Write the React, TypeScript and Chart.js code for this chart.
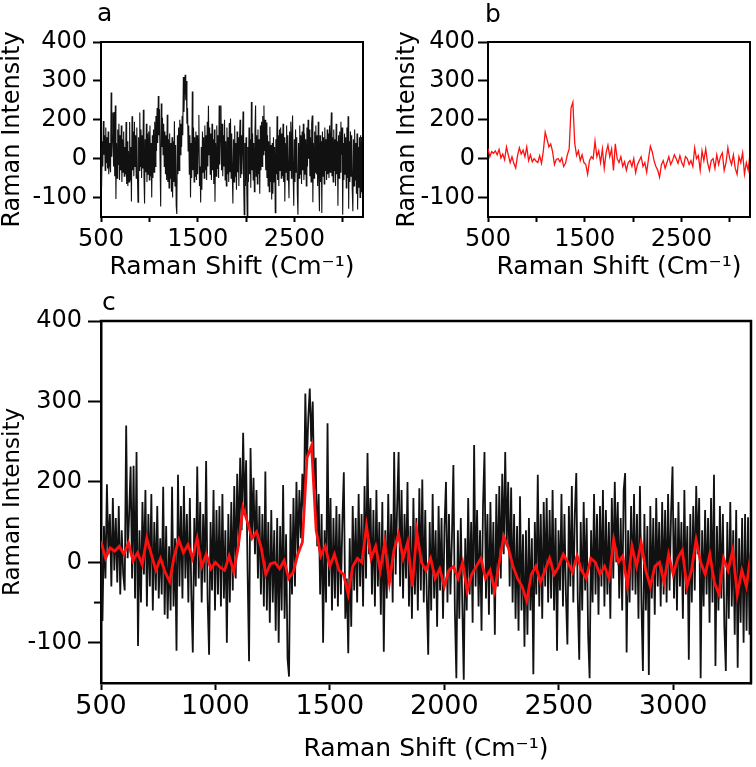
import React, { useEffect, useRef } from 'react';
import { Chart, registerables } from 'chart.js';

Chart.register(...registerables);

// ---- data (Raman shift in cm-1, intensity in axis units where the "0" label is 0) ----
const shiftStart = 500;
const shiftEndMain = 3340; // panel c
const shiftEndTop = 3210; // panels a and b
const shiftTicks = [500, 1000, 1500, 2000, 2500, 3000];
const topShiftLabels = [500, 1500, 2500];
const intensityTicks = [-100, 0, 100, 200, 300];
const intensityTickLabels = ['-100', '0', '200', '300', '400'];

// black spectrum (raw), 440 samples evenly spaced over the shift range
const blackIntensity = [
  30, -73, 45, -20, 97, 10, 60, -30, 80, -10, 55, -25, 70, -40, 40, -15, -35, 170, 5, 60,
  119, -20, 120, -45, 137, -104, 40, -50, 75, -15, 90, -55, 60, -30, 85, -60, 50, -35, 70, -45,
  30, -40, 94, -65, 45, -70, 20, -60, 94, -55, 30, -110, 109, -30, 70, -45, 95, -20, 60, -50,
  80, -40, -112, 55, -30, 119, -20, 75, -50, 60, -25, 126, -45, -115, 50, -35, 90, -60, 65, -40,
  70, -55, 85, -45, 40, -100, 60, -50, 75, -35, 95, -20, 110, 20, 130, 40, 161, 60, 127, -10,
  -123, 142, 30, 105, 10, 90, -20, 70, -40, 60, -55, 113, -60, 50, -75, 65, -50, 40, -85, 55,
  -100, 45, -60, 96, -70, 35, -120, -142, 60, -40, 80, -30, 100, 10, 90, 30, 110, 60, 210, 120,
  180, 216, 150, 200, 90, 130, 20, 85, -40, 60, -100, 40, -50, 173, -30, 80, -60, 55, -45, 70,
  -55, 60, -40, 50, 112, -70, -20, -113, 30, -80, 70, -35, 55, -50, 85, -30, 60, -55, 95, -20,
  136, 10, 80, -40, 65, -55, 90, -30, 50, -65, 75, -111, 40, -45, 85, -25, 60, -50, 137, -15,
  70, 137, -30, 90, -45, 60, -20, 100, -55, 45, -70, 80, -40, 55, -60, 92, -35, 103, -50, 65,
  -40, -115, 50, -60, 85, -45, 40, -80, 70, -35, 55, -70, 45, 100, -50, 60, -40, 30, 121, -60,
  -144, 40, -70, 55, -50, -146, 30, -60, 80, -40, 50, -75, 146, -30, 65, -55, 40, -85, 70, 137,
  -45, 60, -65, 75, -40, 50, -90, 85, -30, 95, -20, 110, 10, 137, 20, 100, -30, 93, -50, 60,
  -70, 45, -85, 82, -60, 35, -105, 40, -90, 55, -60, 30, -139, 50, -40, 109, -55, 60, -70, 75,
  -30, 80, -50, 65, -45, 90, -60, 55, -110, 40, -35, 85, -55, 60, -40, -102, 70, -30, 95, -50,
  60, 111, -45, -121, 50, -60, 75, -35, 55, -90, -144, 40, -50, 85, -40, 60, -65, 70, -30, 90,
  -55, 65, -40, 50, -70, 80, -20, 100, 0, 75, -45, 55, -60, 90, 111, -112, 40, -50, 70, -35,
  85, -40, 60, -70, 95, -50, -135, 60, -60, 45, -140, 70, -45, 55, -65, 80, -30, 50, -55, 75,
  -40, 65, -50, 85, -35, 60, 119, -45, 55, -60, 75, -30, 50, -70, 90, -40, 45, -121, 60, -50,
  70, -35, 95, 10, 80, -144, 40, -55, 65, -40, 55, -75, 80, -50, 109, -129, 45, -60, 70, -45,
  60, -80, -135, 50, -70, 75, -55, 40, -90, 65, -131, 30, -75, 55, -100, 60, -85, 56, -90, 20,
];

// red spectrum (smoothed), 143 samples evenly spaced over the shift range
const redIntensity = [
  26, 5, 18, 14, 20, 10, 24, 2, 12, -3,
  30, 10, -10, 5, -12, -24, 8, 28, 12, 22,
  5, 30, -5, 10, -8, 0, -6, -10, 8, -12,
  20, 68, 50, 30, 38, 18, -15, -2, 0, -8,
  2, -20, -12, 10, 25, 130, 145, 40, 8, 20,
  -5, 10, -10, -15, -40, -5, 5, 0, 45, 5,
  20, -10, 25, -25, 15, 35, 5, 25, -30, 38,
  0, -10, 5, -20, -8, -30, -10, -5, -20, 0,
  -36, -15, -5, 5, -20, -10, -35, 0, 32, 18,
  -5, -20, -30, -48, -15, -5, -25, -10, 5, -15,
  -5, 10, 0, -12, 8, -10, -20, 5, 0, -15,
  -5, -20, 28, 0, 8, -30, 20, -5, 25, -10,
  -30, -5, 0, -25, 10, -15, 5, 15, -30, -10,
  28, 0, -15, 10, -25, -40, 5, -10, 15, -40,
  -10, -30, 12,
];

const BLACK = '#111111';
const RED = '#ff1010';
const FONT = "'DejaVu Sans', 'Liberation Sans', Arial, sans-serif";

function toPoints(values: number[], end: number) {
  const step = (end - shiftStart) / (values.length - 1);
  return values.map((y, i) => ({ x: shiftStart + i * step, y }));
}

const boxPlugin = {
  id: 'box',
  afterDraw(chart: any, _args: any, opts: any) {
    const { ctx, chartArea } = chart;
    const { left, right, top, bottom } = chartArea;
    ctx.save();
    ctx.strokeStyle = '#000';
    ctx.lineWidth = opts.width;
    ctx.beginPath();
    ctx.moveTo(left - opts.width / 2, top);
    ctx.lineTo(right, top);
    ctx.lineTo(right, bottom + opts.width / 2);
    ctx.stroke();
    if (opts.minorTicks) {
      const ys = chart.scales.y;
      opts.minorTicks.forEach((v: number) => {
        const py = ys.getPixelForValue(v);
        ctx.lineWidth = 2;
        ctx.beginPath();
        ctx.moveTo(left - opts.minorLen, py);
        ctx.lineTo(left, py);
        ctx.stroke();
      });
    }
    ctx.fillStyle = '#000';
    ctx.font = `${opts.letterSize}px ${FONT}`;
    ctx.textAlign = 'left';
    ctx.textBaseline = 'alphabetic';
    ctx.fillText(opts.letter, opts.lx, opts.ly);
    ctx.restore();
  },
};

type Series = { values: number[]; color: string; width: number };
type PanelSpec = {
  series: Series[];
  xMax: number;
  xLabels: number[];
  padTop: number;
  padRight: number;
  yAxisW: number;
  xAxisH: number;
  yTickLen: number;
  yTickPad: number;
  yTickSize: number;
  xTickLen: number;
  xTickPad: number;
  xTickSize: number;
  xTitleSize: number;
  xTitlePadB: number;
  yTitleSize: number;
  yTitlePad: number;
  borderW: number;
  letter: string;
  lx: number;
  ly: number;
  letterSize: number;
  minorTicks?: number[];
};

function buildConfig(p: PanelSpec): any {
  return {
    type: 'line',
    data: {
      datasets: p.series.map((s) => ({
        data: toPoints(s.values, p.xMax),
        borderColor: s.color,
        borderWidth: s.width,
        pointRadius: 0,
        tension: 0,
        fill: false,
      })),
    },
    options: {
      animation: false,
      responsive: false,
      devicePixelRatio: 1,
      events: [],
      layout: { padding: { top: p.padTop, right: p.padRight, left: 0, bottom: 0 } },
      plugins: {
        legend: { display: false },
        tooltip: { enabled: false },
        box: {
          width: p.borderW,
          letter: p.letter,
          lx: p.lx,
          ly: p.ly,
          letterSize: p.letterSize,
          minorTicks: p.minorTicks,
          minorLen: 7,
        },
      },
      scales: {
        x: {
          type: 'linear',
          min: shiftStart,
          max: p.xMax,
          afterBuildTicks: (s: any) => {
            s.ticks = shiftTicks.map((v) => ({ value: v }));
          },
          afterFit: (s: any) => {
            s.height = p.xAxisH;
          },
          ticks: {
            autoSkip: false,
            maxRotation: 0,
            minRotation: 0,
            padding: p.xTickPad,
            color: '#000',
            font: { family: FONT, size: p.xTickSize },
            callback: (v: number) => (p.xLabels.includes(v) ? String(v) : ''),
          },
          grid: {
            display: true,
            drawOnChartArea: false,
            drawTicks: true,
            tickLength: p.xTickLen,
            tickWidth: 2,
            tickColor: '#000',
            color: '#000',
          },
          border: { display: true, color: '#000', width: p.borderW },
          title: {
            display: true,
            text: 'Raman Shift (Cm\u207B\u00B9)',
            color: '#000',
            font: { family: FONT, size: p.xTitleSize, lineHeight: 1 },
            padding: { top: 0, bottom: p.xTitlePadB },
          },
        },
        y: {
          type: 'linear',
          min: -150,
          max: 300,
          afterBuildTicks: (s: any) => {
            s.ticks = intensityTicks.map((v) => ({ value: v }));
          },
          afterFit: (s: any) => {
            s.width = p.yAxisW;
          },
          ticks: {
            autoSkip: false,
            padding: p.yTickPad,
            color: '#000',
            font: { family: FONT, size: p.yTickSize },
            callback: (_v: number, i: number) => intensityTickLabels[i],
          },
          grid: {
            display: true,
            drawOnChartArea: false,
            drawTicks: true,
            tickLength: p.yTickLen,
            tickWidth: 2,
            tickColor: '#000',
            color: '#000',
          },
          border: { display: true, color: '#000', width: p.borderW },
          title: {
            display: true,
            text: 'Raman Intensity',
            color: '#000',
            font: { family: FONT, size: p.yTitleSize, lineHeight: 1 },
            padding: { top: p.yTitlePad, bottom: 0 },
          },
        },
      },
    },
    plugins: [boxPlugin],
  };
}

const panelA: PanelSpec = {
  series: [{ values: blackIntensity, color: BLACK, width: 1.1 }],
  xMax: shiftEndTop,
  xLabels: topShiftLabels,
  padTop: 42,
  padRight: 15,
  yAxisW: 101,
  xAxisH: 68,
  yTickLen: 8,
  yTickPad: 6,
  yTickSize: 24,
  xTickLen: 5,
  xTickPad: 3,
  xTickSize: 24,
  xTitleSize: 25,
  xTitlePadB: 5,
  yTitleSize: 24,
  yTitlePad: 1,
  borderW: 2,
  letter: 'a',
  lx: 97,
  ly: 21,
  letterSize: 25,
};

const panelB: PanelSpec = {
  series: [{ values: redIntensity, color: RED, width: 1.3 }],
  xMax: shiftEndTop,
  xLabels: topShiftLabels,
  padTop: 42,
  padRight: 6,
  yAxisW: 110,
  xAxisH: 68,
  yTickLen: 10,
  yTickPad: 3,
  yTickSize: 24,
  xTickLen: 5,
  xTickPad: 3,
  xTickSize: 24,
  xTitleSize: 25,
  xTitlePadB: 5,
  yTitleSize: 24,
  yTitlePad: 18,
  borderW: 2,
  letter: 'b',
  lx: 107,
  ly: 22,
  letterSize: 25,
};

const panelC: PanelSpec = {
  series: [
    { values: redIntensity, color: RED, width: 2.8 },
    { values: blackIntensity, color: BLACK, width: 1.8 },
  ],
  xMax: shiftEndMain,
  xLabels: shiftTicks,
  padTop: 36,
  padRight: 5,
  yAxisW: 101,
  xAxisH: 84,
  yTickLen: 13,
  yTickPad: 6,
  yTickSize: 24,
  xTickLen: 7,
  xTickPad: 1,
  xTickSize: 27,
  xTitleSize: 25,
  xTitlePadB: 5,
  yTitleSize: 23,
  yTitlePad: 2,
  borderW: 2.5,
  letter: 'c',
  lx: 102,
  ly: 25,
  letterSize: 25,
  minorTicks: [-50],
};

function Panel({ spec, left, top, width, height }: { spec: PanelSpec; left: number; top: number; width: number; height: number }) {
  const ref = useRef<HTMLCanvasElement | null>(null);
  useEffect(() => {
    if (!ref.current) return;
    const chart = new Chart(ref.current, buildConfig(spec));
    return () => chart.destroy();
  }, [spec]);
  return (
    <canvas
      ref={ref}
      width={width}
      height={height}
      style={{ position: 'absolute', left, top, width, height, display: 'block' }}
    />
  );
}

export default function App() {
  return (
    <div style={{ position: 'absolute', left: 0, top: 0, width: 756, height: 767, background: '#fff', overflow: 'hidden' }}>
      <Panel spec={panelA} left={0} top={0} width={378} height={285} />
      <Panel spec={panelB} left={378} top={0} width={378} height={285} />
      <Panel spec={panelC} left={0} top={285} width={756} height={482} />
    </div>
  );
}
